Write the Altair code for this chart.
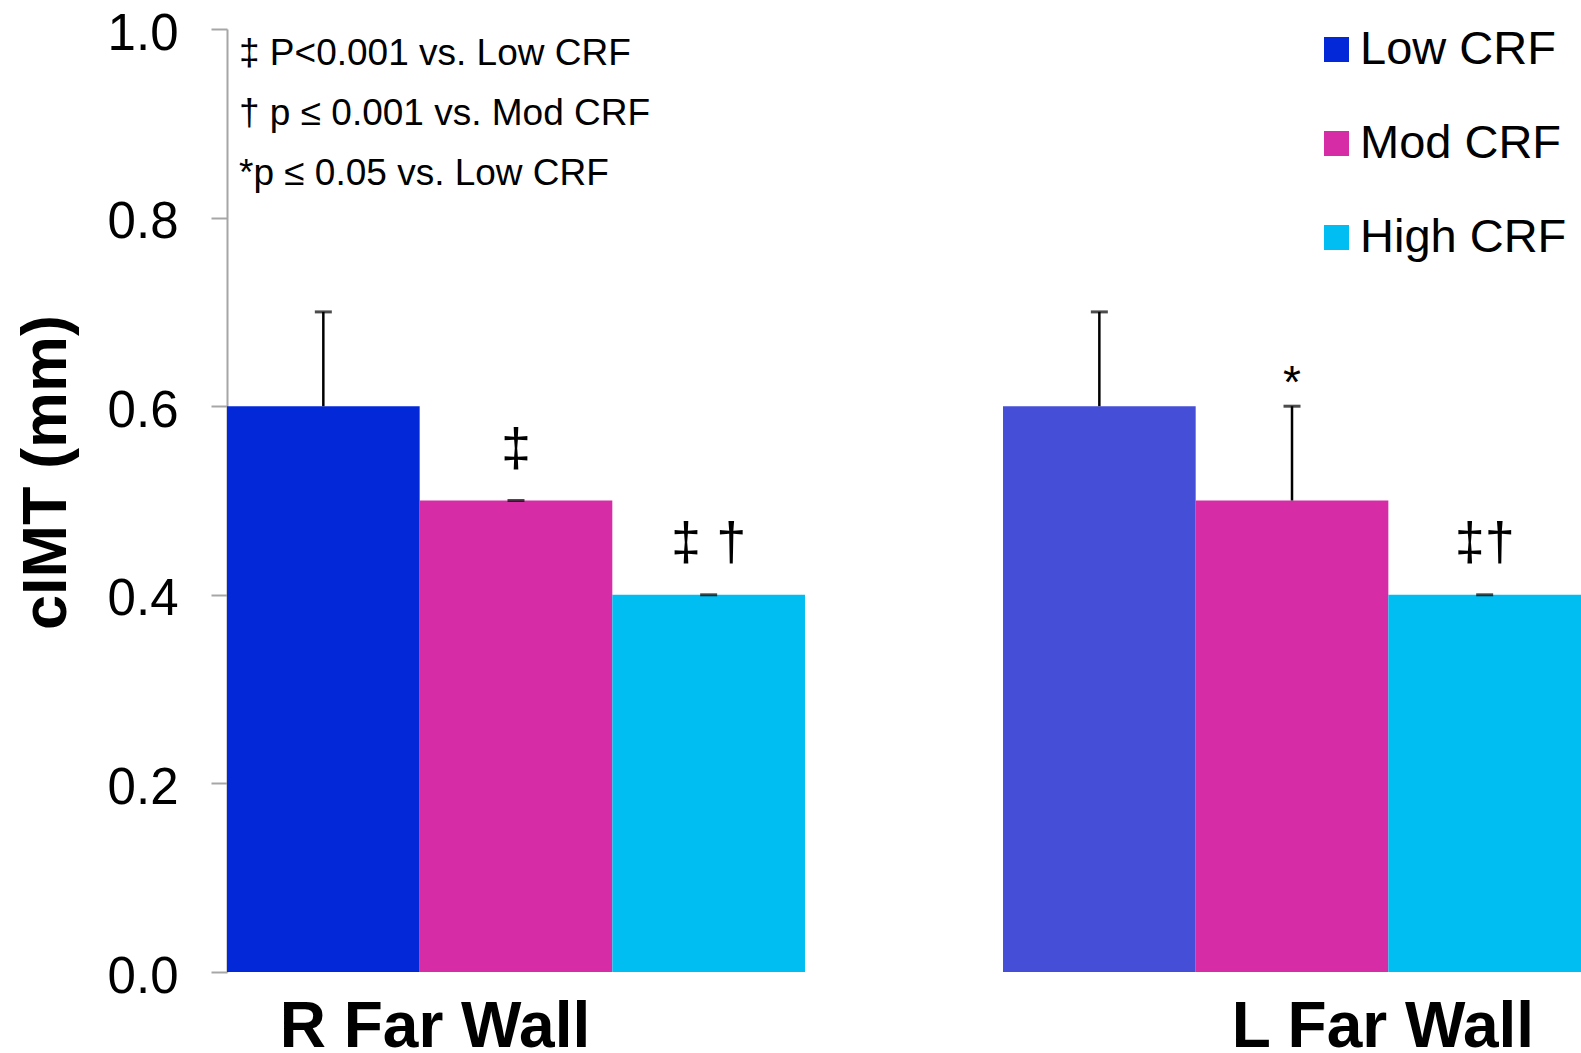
import altair as alt
import pandas as pd

FONT = "Liberation Sans"

# Categories and series
sites = ["R Far Wall", "L Far Wall"]
groups = ["Low CRF", "Mod CRF", "High CRF"]

# Mean cIMT (mm) per fitness group
mean_r = [0.6, 0.5, 0.4]
mean_l = [0.6, 0.5, 0.4]

# Upper error (mm)
err_r = [0.1, 0.0, 0.0]
err_l = [0.1, 0.1, 0.0]

# Significance markers above each bar
sig_r = ["", "‡", "‡ †"]
sig_l = ["", "*", "‡†"]

footnotes = [
    "‡ P<0.001 vs. Low CRF",
    "† p ≤ 0.001 vs. Mod CRF",
    "*p ≤ 0.05 vs. Low CRF",
]

y_ticks = [0.0, 0.2, 0.4, 0.6, 0.8, 1.0]

group_colors = ["#0328D8", "#D62DA7", "#01BEF2"]
l_low_color = "#454ED6"

rows = []
for site, means, errs, sigs in [
    (sites[0], mean_r, err_r, sig_r),
    (sites[1], mean_l, err_l, sig_l),
]:
    for g, m, e, s in zip(groups, means, errs, sigs):
        rows.append({"site": site, "group": g, "mean": m, "top": round(m + e, 3), "sig": s})
df = pd.DataFrame(rows)

notes_df = pd.DataFrame({"note": ["\n".join(footnotes)]})
site_df = pd.DataFrame({"site": sites})

x_scale = alt.Scale(domain=sites, paddingInner=0.2552, paddingOuter=0)
x_enc = alt.X(
    "site:N",
    sort=sites,
    scale=x_scale,
    axis=alt.Axis(
        title=None,
        labels=False,
        ticks=False,
        domainColor="#A6A6A6",
        domainWidth=2,
    ),
)
x_plain = alt.X("site:N", sort=sites, scale=x_scale, axis=None)
xoff = alt.XOffset("group:N", sort=groups, scale=alt.Scale(paddingInner=0, paddingOuter=0))

y_scale = alt.Scale(domain=[0, 1], nice=False, zero=True)
y_enc = alt.Y(
    "mean:Q",
    scale=y_scale,
    axis=alt.Axis(
        values=y_ticks,
        format=".1f",
        grid=False,
        labelFont=FONT,
        labelFontSize=51,
        labelColor="black",
        labelPadding=33,
        labelOffset=5,
        tickSize=16,
        tickWidth=2,
        tickColor="#A6A6A6",
        domainColor="#A6A6A6",
        domainWidth=2,
        title="cIMT (mm)",
        titleFont=FONT,
        titleFontSize=63,
        titleFontWeight="bold",
        titleColor="black",
        titleAngle=270,
        titleAlign="center",
        titleBaseline="alphabetic",
        titleX=-162,
        titleY=443,
    ),
)

bars = alt.Chart(df).mark_bar().encode(
    x=x_enc,
    xOffset=xoff,
    y=y_enc,
    color=alt.condition(
        "datum.site == 'L Far Wall' && datum.group == 'Low CRF'",
        alt.value(l_low_color),
        alt.Color(
            "group:N",
            sort=groups,
            scale=alt.Scale(domain=groups, range=group_colors),
            legend=alt.Legend(
                title=None,
                orient="none",
                legendX=1086,
                legendY=-3,
                padding=0,
                symbolType="square",
                symbolSize=625,
                symbolStrokeWidth=0,
                symbolOpacity=1,
                labelFont=FONT,
                labelFontSize=47,
                labelColor="black",
                labelOffset=0,
                labelLimit=500,
                rowPadding=46,
            ),
        ),
    ),
)

whiskers = alt.Chart(df).mark_rule(color="black", strokeWidth=2.5).encode(
    x=x_plain, xOffset=xoff, y=alt.Y("mean:Q", scale=y_scale), y2="top:Q"
)

caps = alt.Chart(df).mark_tick(color="black", thickness=3, size=17, orient="horizontal").encode(
    x=x_plain, xOffset=xoff, y=alt.Y("top:Q", scale=y_scale)
)

daggers = (
    alt.Chart(df)
    .transform_filter("datum.sig != '' && datum.sig != '*'")
    .mark_text(font=FONT, fontSize=54, baseline="alphabetic", dy=-35, color="black")
    .encode(x=x_plain, xOffset=xoff, y=alt.Y("top:Q", scale=y_scale), text="sig:N")
)

stars = (
    alt.Chart(df)
    .transform_filter("datum.sig == '*'")
    .mark_text(font=FONT, fontSize=46, baseline="alphabetic", dy=-8, color="black")
    .encode(x=x_plain, xOffset=xoff, y=alt.Y("top:Q", scale=y_scale), text="sig:N")
)

# Category labels under each group of bars
cat_style = dict(font=FONT, fontSize=64, fontWeight="bold", baseline="alphabetic", color="black")
label_r = (
    alt.Chart(site_df)
    .transform_filter(f"datum.site == '{sites[0]}'")
    .mark_text(dx=-81, **cat_style)
    .encode(x=x_plain, y=alt.value(1018), text="site:N")
)
label_l = (
    alt.Chart(site_df)
    .transform_filter(f"datum.site == '{sites[1]}'")
    .mark_text(dx=91, **cat_style)
    .encode(x=x_plain, y=alt.value(1018), text="site:N")
)

notes = alt.Chart(notes_df).mark_text(
    font=FONT, fontSize=37, align="left", baseline="alphabetic", lineBreak="\n", lineHeight=60, color="black"
).encode(x=alt.value(12), y=alt.value(36), text="note:N")

chart = (
    alt.layer(bars, whiskers, caps, daggers, stars, label_r, label_l, notes)
    .properties(
        width=1354,
        height=943,
        padding={"left": 227, "top": 29, "right": 0, "bottom": 81},
        autosize=alt.AutoSizeParams(type="none"),
        background="white",
    )
    .configure_view(stroke=None)
)

chart.save("out.html", embed_options={"renderer": "svg", "actions": False})
